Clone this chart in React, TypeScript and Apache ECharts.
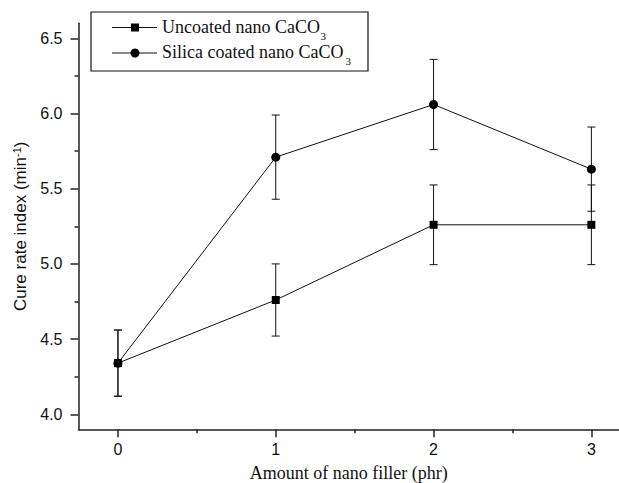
import React, { useEffect, useRef } from "react";
import * as echarts from "echarts";

const fillerAmounts = [0, 1, 2, 3];
const uncoatedValues = [4.34, 4.76, 5.26, 5.26];
const uncoatedErrors = [0.22, 0.24, 0.265, 0.265];
const silicaValues = [4.34, 5.71, 6.06, 5.63];
const silicaErrors = [0.22, 0.28, 0.3, 0.28];
const xTickValues = [0, 1, 2, 3];
const xMinorTicks = [0.5, 1.5, 2.5];
const yTickValues = [4.0, 4.5, 5.0, 5.5, 6.0, 6.5];
const yMinorTicks = [4.25, 4.75, 5.25, 5.75, 6.25];
const seriesNames = ["Uncoated nano CaCO", "Silica coated nano CaCO"];

const SANS = "Liberation Sans";
const SERIF = "Liberation Serif";

function errorData(values: number[], errs: number[]) {
  return fillerAmounts.map((x, i) => [x, values[i] - errs[i], values[i] + errs[i]]);
}

function renderErrorBar(params: any, api: any) {
  const x = api.value(0);
  const lo = api.coord([x, api.value(1)]);
  const hi = api.coord([x, api.value(2)]);
  const w = 4;
  const style = { stroke: "#111", lineWidth: 1 };
  return {
    type: "group",
    children: [
      { type: "line", shape: { x1: hi[0], y1: hi[1], x2: lo[0], y2: lo[1] }, style },
      { type: "line", shape: { x1: hi[0] - w, y1: hi[1], x2: hi[0] + w, y2: hi[1] }, style },
      { type: "line", shape: { x1: lo[0] - w, y1: lo[1], x2: lo[0] + w, y2: lo[1] }, style },
    ],
  };
}

export default function App() {
  const ref = useRef<HTMLDivElement>(null);
  useEffect(() => {
    if (!ref.current) return;
    const chart = echarts.init(ref.current, null, { renderer: "svg" });
    const axisLineStyle = { color: "#222", width: 1.5 };
    const option: any = {
      animation: false,
      backgroundColor: "#fff",
      grid: { left: 78.5, right: 0, top: 23.3, bottom: 53.7, containLabel: false, outerBoundsMode: "none" },
      xAxis: [
        {
          type: "value",
          min: -0.25,
          max: 3.175,
          name: "Amount of nano filler (phr)",
          nameLocation: "middle",
          nameGap: 34.5,
          nameTextStyle: { fontFamily: SERIF, fontSize: 18, lineHeight: 18, color: "#111" },
          axisLine: { show: true, onZero: false, lineStyle: axisLineStyle },
          axisTick: { show: true, customValues: xTickValues, length: 8, inside: false, lineStyle: { color: "#222", width: 1.5 } },
          axisLabel: { customValues: xTickValues, margin: 12, fontFamily: SANS, fontSize: 16, color: "#111", formatter: (v: number) => String(v) },
          splitLine: { show: false },
        },
        {
          type: "value",
          min: -0.25,
          max: 3.175,
          position: "bottom",
          axisLine: { show: false, onZero: false },
          axisTick: { show: true, customValues: xMinorTicks, length: 4, lineStyle: { color: "#222", width: 1.5 } },
          axisLabel: { show: false },
          splitLine: { show: false },
        },
      ],
      yAxis: [
        {
          type: "value",
          min: 3.9,
          max: 6.6,
          name: "{a|Cure rate index (min}{sup|-1}{a|)}",
          nameLocation: "middle",
          nameGap: 48,
          nameRotate: 90,
          nameTextStyle: {
            color: "#111",
            rich: {
              a: { fontFamily: SANS, fontSize: 17, lineHeight: 19, color: "#111" },
              sup: { fontFamily: SANS, fontSize: 11, lineHeight: 11, verticalAlign: "top", color: "#111" },
            },
          },
          axisLine: { show: true, onZero: false, lineStyle: axisLineStyle },
          axisTick: { show: true, customValues: yTickValues, length: 8, lineStyle: { color: "#222", width: 1.5 } },
          axisLabel: { customValues: yTickValues, margin: 16, fontFamily: SANS, fontSize: 16, color: "#111", formatter: (v: number) => v.toFixed(1) },
          splitLine: { show: false },
        },
        {
          type: "value",
          min: 3.9,
          max: 6.6,
          position: "left",
          axisLine: { show: false, onZero: false },
          axisTick: { show: true, customValues: yMinorTicks, length: 4, lineStyle: { color: "#222", width: 1.5 } },
          axisLabel: { show: false },
          splitLine: { show: false },
        },
      ],
      series: [
        {
          type: "custom",
          name: "uncoated-err",
          renderItem: renderErrorBar,
          data: errorData(uncoatedValues, uncoatedErrors),
          encode: { x: 0, y: [1, 2] },
          z: 1,
          silent: true,
        },
        {
          type: "custom",
          name: "silica-err",
          renderItem: renderErrorBar,
          data: errorData(silicaValues, silicaErrors),
          encode: { x: 0, y: [1, 2] },
          z: 1,
          silent: true,
        },
        {
          type: "line",
          name: seriesNames[1],
          data: fillerAmounts.map((x, i) => [x, silicaValues[i]]),
          symbol: "circle",
          symbolSize: 9,
          lineStyle: { color: "#111", width: 1 },
          itemStyle: { color: "#000" },
          z: 2,
        },
        {
          type: "line",
          name: seriesNames[0],
          data: fillerAmounts.map((x, i) => [x, uncoatedValues[i]]),
          symbol: "rect",
          symbolSize: 8,
          lineStyle: { color: "#111", width: 1 },
          itemStyle: { color: "#000" },
          z: 3,
        },
      ],
      graphic: [
        { type: "rect", shape: { x: 91, y: 12, width: 277, height: 59 }, style: { fill: "#fff", stroke: "#111", lineWidth: 1.2 }, z: 10 },
        { type: "line", shape: { x1: 112, y1: 27.5, x2: 157, y2: 27.5 }, style: { stroke: "#111", lineWidth: 1 }, z: 11 },
        { type: "rect", shape: { x: 131, y: 23.5, width: 8, height: 8 }, style: { fill: "#000" }, z: 12 },
        { type: "text", x: 162, y: 27, style: { text: seriesNames[0], font: `18px "${SERIF}"`, fill: "#111", verticalAlign: "middle", align: "left" }, z: 12 },
        { type: "text", x: 320.5, y: 36, style: { text: "3", font: `11px "${SERIF}"`, fill: "#111", verticalAlign: "middle", align: "left" }, z: 12 },
        { type: "line", shape: { x1: 112, y1: 53, x2: 157, y2: 53 }, style: { stroke: "#111", lineWidth: 1 }, z: 11 },
        { type: "circle", shape: { cx: 135, cy: 53, r: 4.5 }, style: { fill: "#000" }, z: 12 },
        { type: "text", x: 162, y: 52, style: { text: seriesNames[1], font: `18px "${SERIF}"`, fill: "#111", verticalAlign: "middle", align: "left" }, z: 12 },
        { type: "text", x: 345.5, y: 61, style: { text: "3", font: `11px "${SERIF}"`, fill: "#111", verticalAlign: "middle", align: "left" }, z: 12 },
      ],
    };
    chart.setOption(option);
    return () => chart.dispose();
  }, []);
  return <div ref={ref} style={{ position: "absolute", left: 0, top: 0, width: 619, height: 483 }} />;
}
